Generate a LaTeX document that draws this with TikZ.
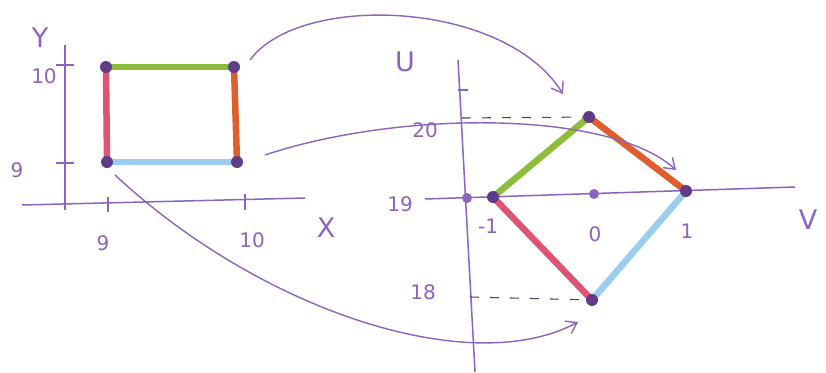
\documentclass[tikz,border=0pt]{standalone}
\usepackage{fontspec}
\setmainfont{DejaVu Sans}
\usetikzlibrary{arrows.meta}
\definecolor{axiscol}{RGB}{140,100,190}
\definecolor{dotcol}{RGB}{95,60,135}
\definecolor{grn}{RGB}{140,190,60}
\definecolor{org}{RGB}{222,95,45}
\definecolor{blu}{RGB}{155,205,238}
\definecolor{pnk}{RGB}{222,85,115}
\begin{document}
\begin{tikzpicture}[x=1pt,y=-1pt,
  axis/.style={draw=axiscol,line width=1.5pt},
  tickmark/.style={draw=axiscol,line width=1.3pt},
  edge/.style={line width=6.5pt,line cap=round},
  pt/.style={circle,fill=dotcol,inner sep=0pt,minimum size=12pt},
  smallpt/.style={circle,fill=axiscol,inner sep=0pt,minimum size=10pt},
  lbl/.style={text=axiscol,font=\fontsize{20}{22}\selectfont,inner sep=0pt},
  biglbl/.style={text=axiscol,font=\fontsize{27}{29}\selectfont,inner sep=0pt},
  maparrow/.style={draw=axiscol,line width=1.4pt,-{Straight Barb[length=10pt,width=14pt,line width=1.4pt]}},
  guide/.style={draw=axiscol!60!black,line width=1.1pt,dash pattern=on 9pt off 11pt}]
\useasboundingbox (0,0) rectangle (826,372);
\fill[white] (0,0) rectangle (826,372);
% ---- left axes
\coordinate (yb) at (65,210); \coordinate (yt) at (65,45);
\coordinate (xl) at (22,205); \coordinate (xr) at (305,198);
\draw[axis] (yb) -- (yt);
\draw[axis] (xl) -- (xr);
\draw[tickmark] (56,65) -- (74,65);
\draw[tickmark] (56,163) -- (74,163);
\draw[tickmark] (108,197) -- (108,212);
\draw[tickmark] (245,194) -- (245,210);
\node[biglbl] (ylab) at (40,38) {Y};
\node[biglbl] (xlab) at (326,228) {X};
\node[lbl] (l10y) at (44,76) {10};
\node[lbl] (l9y) at (17,170) {9};
\node[lbl] (l9x) at (103,243) {9};
\node[lbl] (l10x) at (252,240) {10};
% ---- rectangle
\coordinate (A) at (106,67); \coordinate (B) at (234,67);
\coordinate (C) at (237,162); \coordinate (D) at (107,162);
\draw[edge,grn] (A) -- (B);
\draw[edge,org] (B) -- (C);
\draw[edge,blu] (C) -- (D);
\draw[edge,pnk] (D) -- (A);
\node[pt] (nA) at (A) {}; \node[pt] (nB) at (B) {};
\node[pt] (nC) at (C) {}; \node[pt] (nD) at (D) {};
% ---- right axes
\coordinate (ub) at (475,372); \coordinate (ut) at (458,60);
\coordinate (vl) at (425,199); \coordinate (vr) at (795,187);
\draw[axis] (ub) -- (ut);
\draw[axis] (vl) -- (vr);
\draw[tickmark] (458,90) -- (468,90);
\node[biglbl] (ulab) at (405,62) {U};
\node[biglbl] (vlab) at (808,220) {V};
\node[lbl] (l20) at (425,130) {20};
\node[lbl] (l19) at (400,204) {19};
\node[lbl] (l18) at (423,292) {18};
\node[lbl] (lm1) at (488,226) {-1};
\node[lbl] (l0) at (595,234) {0};
\node[lbl] (l1) at (687,231) {1};
% ---- image quadrilateral
\coordinate (P) at (493,197); \coordinate (Q) at (589,117);
\coordinate (R) at (686,191); \coordinate (S) at (592,300);
\coordinate (g20) at (462,118); \coordinate (g18) at (470,297);
\draw[guide] (g20) -- (Q);
\draw[guide] (g18) -- (S);
\draw[edge,grn] (P) -- (Q);
\draw[edge,org] (Q) -- (R);
\draw[edge,blu] (R) -- (S);
\draw[edge,pnk] (S) -- (P);
\node[smallpt] (O) at (467,198) {};
\node[smallpt] (M) at (594,194) {};
\node[pt] (nP) at (P) {}; \node[pt] (nQ) at (Q) {};
\node[pt] (nR) at (R) {}; \node[pt] (nS) at (S) {};
% ---- mapping arrows
\coordinate (a1s) at (250,60); \coordinate (a1e) at (563,94);
\coordinate (a2s) at (265,155); \coordinate (a2e) at (676,170);
\coordinate (a3s) at (115,175); \coordinate (a3e) at (578,322);
\draw[maparrow] (a1s) .. controls (300,-8) and (505,0) .. (a1e);
\draw[maparrow] (a2s) .. controls (400,110) and (610,110) .. (a2e);
\draw[maparrow] (a3s) .. controls (260,310) and (470,380) .. (a3e);
\end{tikzpicture}
\end{document}
